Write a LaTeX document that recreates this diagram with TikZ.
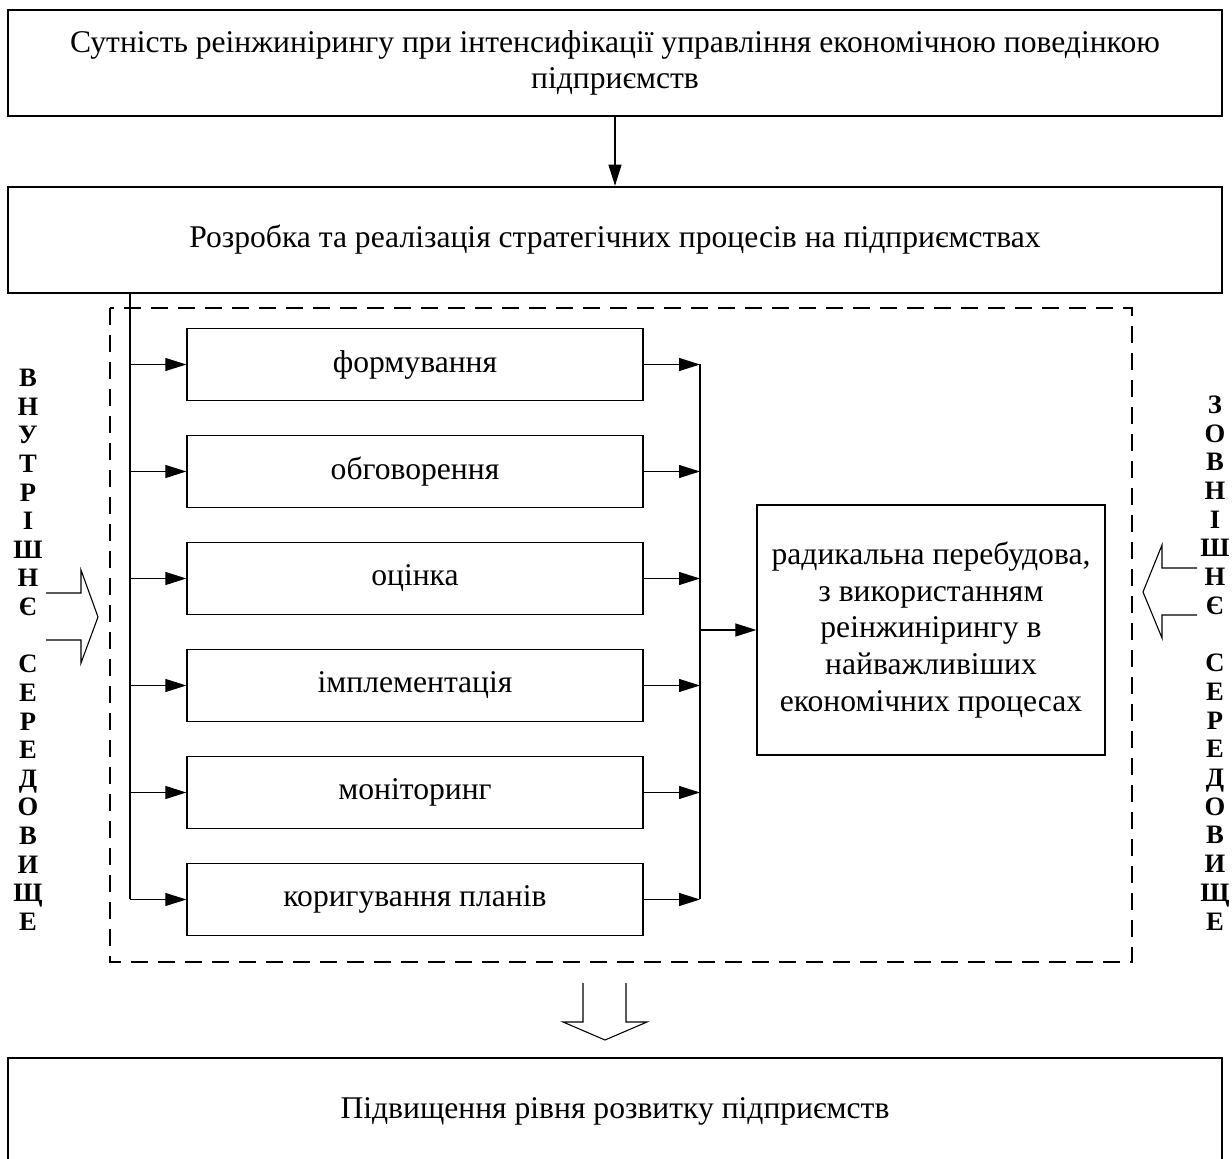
\documentclass[tikz,border=0pt]{standalone}
\usepackage{fontspec}
\setmainfont{Liberation Serif}
\usetikzlibrary{shapes,arrows,arrows.meta,calc}

\newcommand{\boxfont}{\fontsize{15.8}{18.3}\selectfont}
\newcommand{\sidefont}{\fontsize{13.3}{14}\selectfont\bfseries}

\tikzset{
    mainbox/.style={draw, line width=1.3pt, minimum width=607pt, minimum height=53pt,
        inner sep=0pt, align=center, font=\boxfont},
    stagebox/.style={draw, line width=0.65pt, minimum width=228pt, minimum height=36pt,
        inner sep=0pt, align=center, font=\boxfont},
    link/.style={line width=0.55pt, -{Triangle[length=10.5pt,width=6.5pt]}},
    hollow/.style={line width=0.55pt},
    frame/.style={line width=0.55pt, dash pattern=on 8.5pt off 5pt},
    sideletter/.style={anchor=base, inner sep=0pt, font=\sidefont}
}

\begin{document}
\begin{tikzpicture}[x=0.5pt,y=-0.5pt]
    \useasboundingbox (0,0) rectangle (1232,1159);
    \clip (0,0) rectangle (1232,1159);

    % Main blocks
    \node[mainbox] (essence) at (615,63)
        {Сутність реінжинірингу при інтенсифікації управління економічною поведінкою\\підприємств};
    \node[mainbox] (process) at (615,240)
        {Розробка та реалізація стратегічних процесів на підприємствах};
    \node[mainbox] (result) at (615,1111)
        {Підвищення рівня розвитку підприємств};

    \draw [link] (essence) -- (process);

    % Dashed frame of the stages
    \draw [frame] (110,308) rectangle (1132,962);

    \coordinate (Spine) at ($(process.south -| 130,0)$);
    \coordinate (Join)  at (700,0);

    % Stages with their branches
    \foreach \name/\txt [count=\i] in {form/формування, disc/обговорення, eval/оцінка,
            impl/імплементація, mon/моніторинг, corr/коригування планів} {
        \node[stagebox] (\name) at (415, 257.5+107*\i) {\txt};
        \draw [link] (Spine |- \name.west) -- (\name.west);
        \draw [link] (\name.east) -- (Join |- \name.east);
    }
    \draw [hollow] (Spine) -- (Spine |- corr.west);
    \draw [hollow] (Join |- form.east) -- (Join |- corr.east);

    \node[stagebox, minimum width=174pt, minimum height=125pt] (radical) at (931,630)
        {радикальна перебудова,\\з використанням\\реінжинірингу в\\найважливіших\\економічних процесах};
    \draw [link] (Join |- radical.west) -- (radical.west);

    % Block arrows
    \draw [hollow] (46,593) -- (81,593) -- (81,570) -- (98,617) -- (81,663) -- (81,640) -- (46,640);
    \draw [hollow] (1197,568) -- (1162,568) -- (1162,545) -- (1143,592) -- (1162,638) -- (1162,615) -- (1197,615);
    \draw [hollow] (583,983) -- (583,1022) -- (563,1022) -- (605,1040) -- (647,1022) -- (626,1022) -- (626,983);

    % Side labels
    \foreach \ch [count=\i] in {В,Н,У,Т,Р,І,Ш,Н,Є,{},С,Е,Р,Е,Д,О,В,И,Щ,Е} {
        \node[sideletter] (inner-\i) at (28, 357.9+28.63*\i) {\ch};
    }
    \foreach \ch [count=\i] in {З,О,В,Н,І,Ш,Н,Є,{},С,Е,Р,Е,Д,О,В,И,Щ,Е} {
        \node[sideletter] (outer-\i) at (1215, 384.8+28.7*\i) {\ch};
    }
\end{tikzpicture}
\end{document}
